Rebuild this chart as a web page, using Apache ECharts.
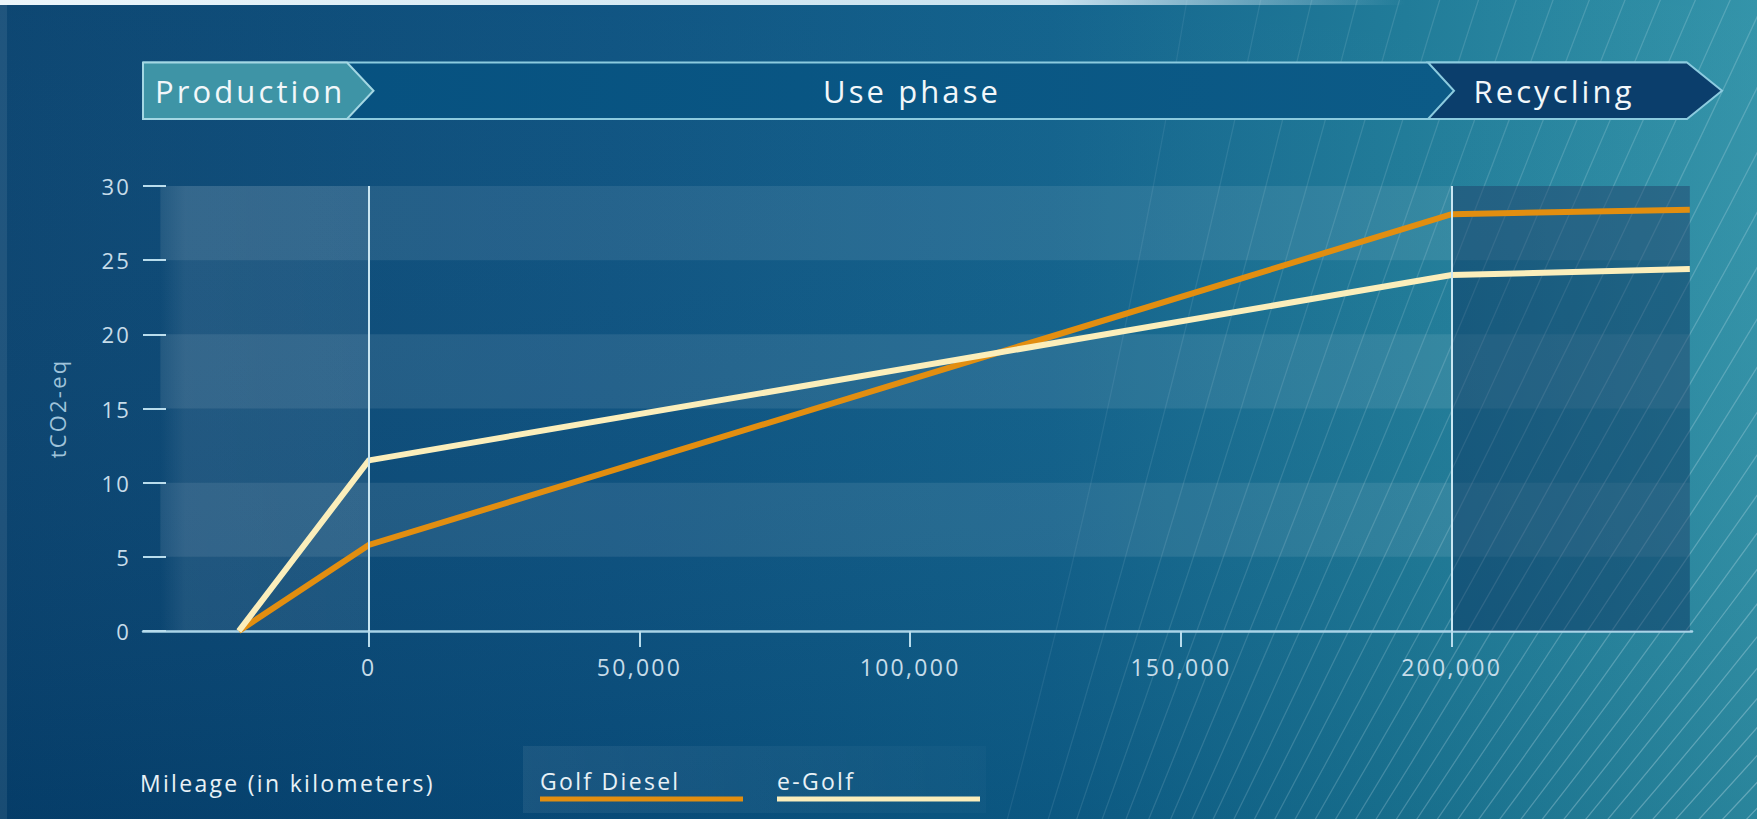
<!DOCTYPE html>
<html><head><meta charset="utf-8">
<style>
html,body{margin:0;padding:0;background:#0a4a78;overflow:hidden;}
#c{width:1757px;height:819px;}
#c text{letter-spacing:0.1em;}
</style>
<script src="https://cdn.jsdelivr.net/npm/echarts@6.0.0/dist/echarts.min.js"></script>
</head><body><div id="c"></div>
<script>
// ---- data ----
const mileage = [-24000, 0, 200000, 244000];
const golfDiesel = [0, 5.8, 28.1, 28.4];
const eGolf = [0, 11.5, 24.0, 24.4];
const seriesNames = ['Golf Diesel', 'e-Golf'];
const xTickValues = [0, 50000, 100000, 150000, 200000];
const phaseNames = ['Production', 'Use phase', 'Recycling'];
const phaseEdges = [-38500, 0, 200000, 244000];
const lightBands = [[25, 30], [15, 20], [5, 10]];
const xAxisTitle = 'Mileage (in kilometers)';
const yAxisTitle = 'tCO2-eq';

const FONT = '"Open Sans", "Noto Sans", sans-serif';
const W = 1757, H = 819;
const seriesColors = ['#e28e10', '#fbeebb'];

// ---- decorative background curves ----
const arcEls = [];
(function(){
  const S = [700, 1750], len = 2900, bow = 240, N = 58;
  for (let k = 0; k <= N; k++) {
    const f = Math.pow(k / N, 0.75);
    const th = (78 - 48 * f) * Math.PI / 180;
    const E = [S[0] + len*Math.cos(th), S[1] - len*Math.sin(th)];
    const Mx = (S[0]+E[0])/2 + bow*Math.sin(th), My = (S[1]+E[1])/2 + bow*Math.cos(th);
    const alpha = 0.08 + 0.36 * f;
    arcEls.push({type:'bezierCurve', z:-5, silent:true,
      shape:{x1:S[0], y1:S[1], x2:E[0], y2:E[1], cpx1:Mx, cpy1:My},
      style:{stroke:'rgba(225,243,250,' + alpha.toFixed(3) + ')', lineWidth:1.3, fill:null}});
  }
})();

// ---- banner ----
const bTop = 62.5, bBot = 119, bMid = 90.75;
const banner = [
  {type:'polygon', z:1, silent:true,
    shape:{points:[[143,bTop],[1428,bTop],[1454,bMid],[1428,bBot],[143,bBot]]},
    style:{fill:{type:'linear',x:0,y:0,x2:1,y2:0,colorStops:[{offset:0,color:'#06507f'},{offset:1,color:'#0c5b87'}]}}},
  {type:'polyline', z:2, silent:true, shape:{points:[[143,bTop],[1687,bTop]]}, style:{stroke:'#8ccbdf', lineWidth:2, fill:null}},
  {type:'polyline', z:2, silent:true, shape:{points:[[143,bBot],[1687,bBot]]}, style:{stroke:'#8ccbdf', lineWidth:2, fill:null}},
  {type:'polygon', z:3, silent:true,
    shape:{points:[[143,bTop],[347,bTop],[373.5,bMid],[347,bBot],[143,bBot]]},
    style:{fill:'#3e94a6', stroke:'#a4d7e3', lineWidth:2}},
  {type:'polygon', z:3, silent:true,
    shape:{points:[[1428,bTop],[1687,bTop],[1722,bMid],[1687,bBot],[1428,bBot],[1454,bMid]]},
    style:{fill:'#0b3e6c', stroke:'#8ccbdf', lineWidth:2}},
  {type:'text', z:4, silent:true, style:{text:phaseNames[0], x:155, y:bMid, fill:'#f2f7fa', fontSize:31, fontFamily:FONT, textAlign:'left', textVerticalAlign:'middle'}},
  {type:'text', z:4, silent:true, style:{text:phaseNames[1], x:912, y:bMid, fill:'#f2f7fa', fontSize:31, fontFamily:FONT, textAlign:'center', textVerticalAlign:'middle'}},
  {type:'text', z:4, silent:true, style:{text:phaseNames[2], x:1554, y:bMid, fill:'#f2f7fa', fontSize:31, fontFamily:FONT, textAlign:'center', textVerticalAlign:'middle'}}
];

// ---- legend & axis title ----
const legendEls = [
  {type:'rect', z:1, silent:true, shape:{x:523, y:746, width:463, height:67},
    style:{fill:{type:'linear',x:0,y:0,x2:1,y2:0,colorStops:[{offset:0,color:'rgba(255,255,255,0.07)'},{offset:1,color:'rgba(255,255,255,0.02)'}]}}},
  {type:'text', z:3, silent:true, style:{text:xAxisTitle, x:140, y:783, fill:'#e8f1f6', fontSize:23, fontFamily:FONT, textAlign:'left', textVerticalAlign:'middle'}},
  {type:'text', z:3, silent:true, style:{text:seriesNames[0], x:540, y:781, fill:'#e8f1f6', fontSize:23, fontFamily:FONT, textAlign:'left', textVerticalAlign:'middle'}},
  {type:'rect', z:3, silent:true, shape:{x:540, y:796.5, width:203, height:5}, style:{fill:seriesColors[0]}},
  {type:'text', z:3, silent:true, style:{text:seriesNames[1], x:777, y:781, fill:'#e8f1f6', fontSize:23, fontFamily:FONT, textAlign:'left', textVerticalAlign:'middle'}},
  {type:'rect', z:3, silent:true, shape:{x:777, y:796.5, width:203, height:5}, style:{fill:seriesColors[1]}}
];

const bgEls = [
  {type:'rect', z:-10, silent:true, shape:{x:0,y:0,width:W,height:H},
    style:{fill:{type:'linear',x:0,y:0,x2:1,y2:0,colorStops:[
      {offset:0,color:'#06416e'},{offset:0.35,color:'#09507f'},{offset:0.6,color:'#0d5f8a'},
      {offset:0.8,color:'#1a7896'},{offset:1,color:'#2e91a7'}]}}},
  {type:'rect', z:-9, silent:true, shape:{x:0,y:0,width:W,height:H},
    style:{fill:{type:'linear',x:0,y:0,x2:0,y2:1,colorStops:[
      {offset:0,color:'rgba(255,255,255,0.03)'},{offset:1,color:'rgba(0,20,50,0.10)'}]}}},
  {type:'rect', z:-8, silent:true, shape:{x:0,y:0,width:7,height:H}, style:{fill:'rgba(255,255,255,0.08)'}},
  {type:'rect', z:5, silent:true, shape:{x:0,y:0,width:W,height:5},
    style:{fill:{type:'linear',x:0,y:0,x2:1,y2:0,colorStops:[
      {offset:0,color:'rgba(236,246,251,1)'},{offset:0.6,color:'rgba(220,240,250,0.9)'},{offset:0.8,color:'rgba(220,240,250,0)'},{offset:1,color:'rgba(220,240,250,0)'}]}}}
];

// ---- plot shading (mark areas) ----
const areaData = [];
lightBands.forEach(b => areaData.push([
  {xAxis: phaseEdges[0], yAxis: b[0], itemStyle:{color:'rgba(255,255,255,0.085)'}},
  {xAxis: phaseEdges[3], yAxis: b[1]}]));
areaData.push([
  {xAxis: phaseEdges[0], yAxis: 0, itemStyle:{color:{type:'linear',x:0,y:0,x2:1,y2:0,colorStops:[
    {offset:0,color:'rgba(255,255,255,0)'},{offset:0.12,color:'rgba(255,255,255,0.08)'},{offset:1,color:'rgba(255,255,255,0.07)'}]}}},
  {xAxis: phaseEdges[1], yAxis: 30}]);
areaData.push([
  {xAxis: phaseEdges[2], yAxis: 0, itemStyle:{color:'rgba(6,36,82,0.40)'}},
  {xAxis: phaseEdges[3], yAxis: 30}]);

const chart = echarts.init(document.getElementById('c'), null, {renderer:'svg', width:W, height:H});
chart.setOption({
  animation: false,
  textStyle: {fontFamily: FONT},
  grid: {left:143, right:65, top:186, bottom:188, containLabel:false},
  xAxis: {
    type:'value', min:-41700, max:244400,
    splitLine:{show:false},
    axisLine:{show:true, onZero:false, lineStyle:{color:'#a9d3e7', width:2.5}},
    axisTick:{show:true, customValues:xTickValues, length:16, lineStyle:{color:'#b8dcec', width:2}},
    axisLabel:{show:true, customValues:xTickValues, margin:24, color:'#c6dce9', fontSize:23, fontFamily:FONT,
      formatter: v => Number(v).toLocaleString('en-US')}
  },
  yAxis: {
    type:'value', min:0, max:30, interval:5,
    splitLine:{show:false},
    axisLine:{show:false, onZero:false},
    axisTick:{show:true, inside:true, length:23, lineStyle:{color:'#b8dcec', width:2}},
    axisLabel:{color:'#c6dce9', fontSize:22, margin:12, fontFamily:FONT},
    name: yAxisTitle, nameLocation:'middle', nameGap:75, nameRotate:90,
    nameTextStyle:{color:'#9fc3da', fontSize:22, fontFamily:FONT}
  },
  graphic: {elements: bgEls.concat(arcEls, banner, legendEls)},
  series: [
    {type:'line', name:'shading', data:[], z:1, silent:true, symbol:'none',
      markArea:{silent:true, data:areaData},
      markLine:{silent:true, symbol:['none','none'], label:{show:false},
        lineStyle:{color:'#c9e6f2', width:2, type:'solid'},
        emphasis:{disabled:true},
        data:[[{xAxis:phaseEdges[1], yAxis:0},{xAxis:phaseEdges[1], yAxis:30}],
              [{xAxis:phaseEdges[2], yAxis:0},{xAxis:phaseEdges[2], yAxis:30}]]}},
    {type:'line', name:seriesNames[0], z:3, symbol:'none', silent:true,
      data: mileage.map((x, i) => [x, golfDiesel[i]]),
      lineStyle:{color:seriesColors[0], width:6, join:'miter'}},
    {type:'line', name:seriesNames[1], z:4, symbol:'none', silent:true,
      data: mileage.map((x, i) => [x, eGolf[i]]),
      lineStyle:{color:seriesColors[1], width:6, join:'miter'}}
  ]
});
</script>
</body></html>
